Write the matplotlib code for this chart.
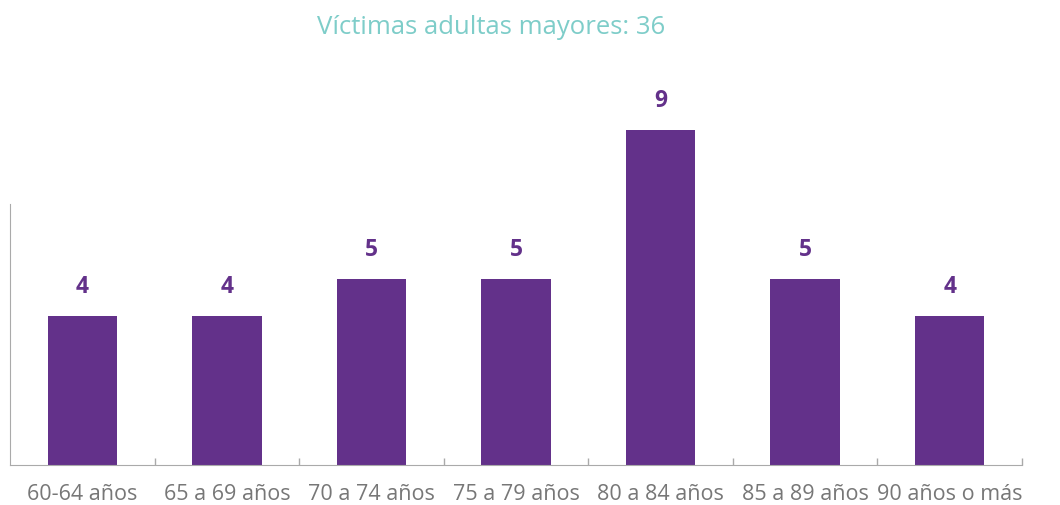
import numpy as np
import matplotlib.pyplot as plt

# datos
categorias = ['60-64 años', '65 a 69 años', '70 a 74 años', '75 a 79 años',
              '80 a 84 años', '85 a 89 años', '90 años o más']
victimas = [4, 4, 5, 5, 9, 5, 4]
titulo = 'Víctimas adultas mayores: 36'

morado = '#63318a'
turquesa = '#7ecdc9'
gris = '#777777'

plt.rcParams['font.family'] = ['Open Sans', 'DejaVu Sans']

fig = plt.figure(figsize=(10.6, 5.05), dpi=100)
ax = fig.add_axes([10/1060, 40/505, 1012/1060, 372.5/505])

x = np.arange(len(categorias))
ax.bar(x, victimas, width=0.48, color=morado)
for xi, v in zip(x, victimas):
    ax.text(xi, v + 0.45, str(v), ha='center', va='bottom',
            color=morado, fontsize=16.5, fontweight='bold')

ax.set_xlim(-0.5, 6.5)
ax.set_ylim(0, 10)
ax.set_yticks([])
ax.set_xticks(x)
ax.set_xticklabels(categorias, fontsize=15.5, color=gris)
ax.tick_params(axis='x', which='major', length=0, pad=14)
ax.set_xticks(np.arange(0.5, 7, 1), minor=True)
ax.tick_params(axis='x', which='minor', direction='in', length=5,
               color='#aaaaaa', width=1)

for s in ['top', 'right']:
    ax.spines[s].set_visible(False)
ax.spines['left'].set_bounds(0, 7)
ax.spines['left'].set_color('#aaaaaa')
ax.spines['bottom'].set_color('#aaaaaa')

fig.text(491/1060, 1 - 28/505, titulo, ha='center', va='center',
         color=turquesa, fontsize=18.5)

fig.savefig('out.png', dpi=100)
